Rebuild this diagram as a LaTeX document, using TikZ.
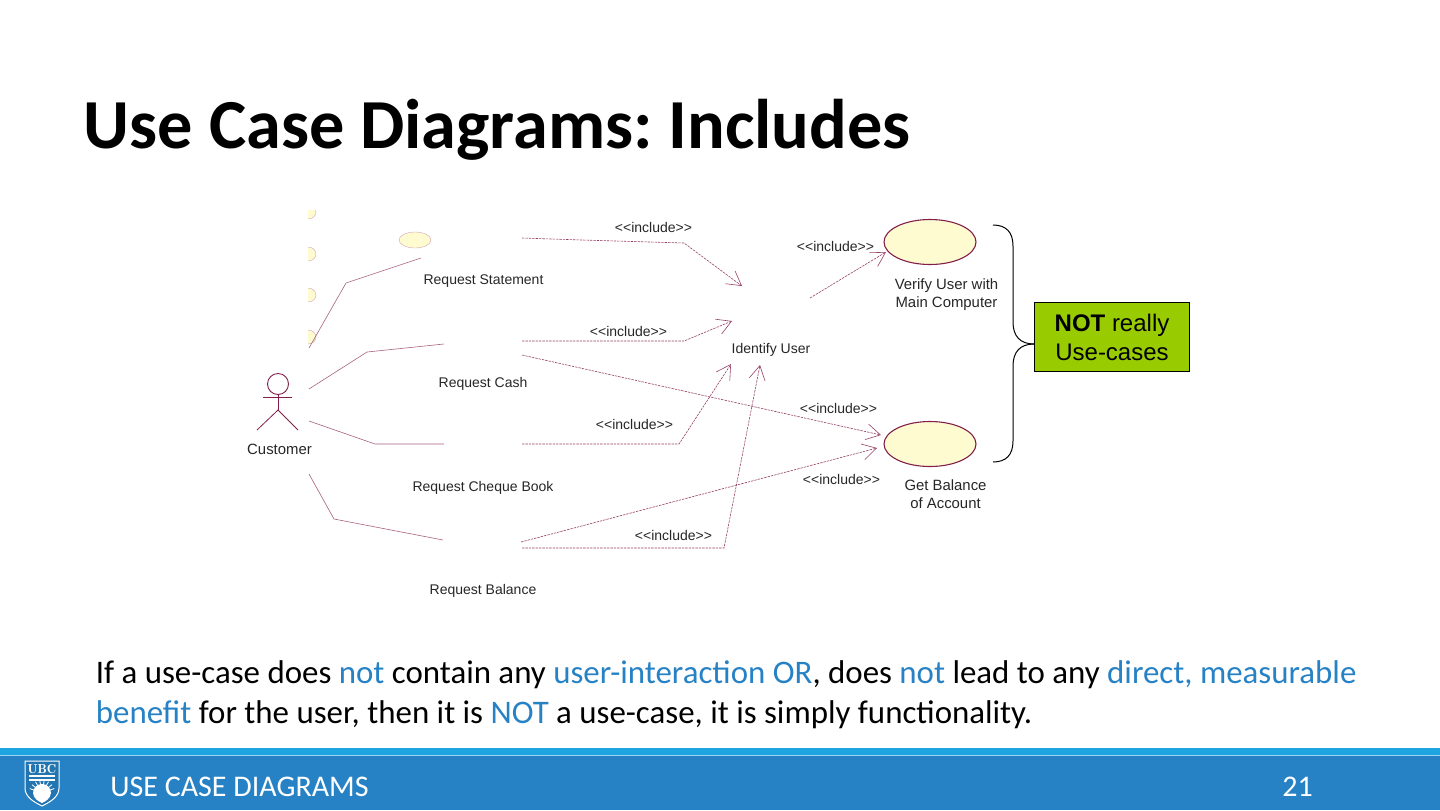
\documentclass[tikz,border=0pt]{standalone}
\usepackage{fontspec}
\setmainfont{Carlito}
\newfontfamily\diagramfont{Liberation Sans}
\usetikzlibrary{arrows.meta,shapes.geometric}
\definecolor{ubcblue}{RGB}{38,130,197}
\definecolor{ubclight}{RGB}{30,165,225}
\definecolor{umlred}{RGB}{130,30,75}
\definecolor{umlfill}{RGB}{255,251,208}
\definecolor{notgreen}{RGB}{153,204,0}
\newcommand{\hl}[1]{\textcolor{ubcblue}{#1}}
\frenchspacing
\tikzset{
    usecase/.style = {ellipse, draw=umlred, fill=umlfill, line width=0.55pt, minimum width=46pt, minimum height=22.5pt, inner sep=0pt},
    label/.style = {font=\diagramfont\fontsize{7}{9}\selectfont, text=black!85, inner sep=0pt, align=center},
    biglabel/.style = {font=\diagramfont\fontsize{7.45}{9}\selectfont, text=black!85, inner sep=0pt, align=center},
    assoc/.style = {draw=umlred!70, line width=0.3pt},
    incl/.style = {draw=umlred!85, line width=0.3pt, dash pattern=on 1.2pt off 0.5pt},
    inclarrow/.style = {incl, -{Straight Barb[length=7pt,width=8pt,line width=0.3pt]}},
    bodytext/.style = {anchor=base west, inner sep=0pt, font=\fontsize{16.45}{20}\selectfont}
}
\begin{document}
\begin{tikzpicture}[x=0.5pt,y=-0.5pt]
    \useasboundingbox (0,0) rectangle (1440,810);
    % title and text
    \node[anchor=base west, inner sep=0pt, font=\fontsize{35.15}{40}\selectfont\bfseries] (title) at (83.5,148) {Use Case Diagrams: Includes};
    \node[bodytext] (line1) at (95.5,683.5) {If a use-case does \hl{not} contain any \hl{user-interaction OR}, does \hl{not} lead to any \hl{direct, measurable}};
    \node[bodytext] (line2) at (95.5,723.5) {\hl{benefit} for the user, then it is \hl{NOT} a use-case, it is simply functionality.};
    % clipped use cases
    \begin{scope}
        \clip (308,210) rectangle (320,345);
        \fill[umlfill, draw=umlred!40, line width=0.2pt] (308,212) ellipse (8 and 7);
        \fill[umlfill, draw=umlred!40, line width=0.2pt] (308,254) ellipse (8 and 7);
        \fill[umlfill, draw=umlred!40, line width=0.2pt] (308,295) ellipse (8 and 7);
        \fill[umlfill, draw=umlred!40, line width=0.2pt] (308,337) ellipse (8 and 7);
    \end{scope}
    \node[ellipse, draw=umlred!40, fill=umlfill, line width=0.2pt, minimum width=16pt, minimum height=8pt, inner sep=0pt] (statement) at (415,240) {};
    % actor
    \node[circle, draw=umlred, line width=0.45pt, minimum size=10.5pt, inner sep=0pt] (head) at (278,384) {};
    \coordinate (hip) at (278,410);
    \coordinate (armL) at (263,397);
    \coordinate (armR) at (292,397);
    \coordinate (footL) at (257,430);
    \coordinate (footR) at (298,430);
    \draw[draw=umlred, line width=0.4pt] (head.south) -- (hip);
    \draw[draw=umlred, line width=0.4pt] (armL) -- (armR);
    \draw[draw=umlred, line width=0.4pt] (footL) -- (hip) -- (footR);
    \node[biglabel] (customer) at (279.5,449) {Customer};
    % labels
    \node[label] (reqstatement) at (483.5,281) {Request Statement};
    \node[label] (reqcash) at (483,384) {Request Cash};
    \node[label] (reqcheque) at (483,488) {Request Cheque Book};
    \node[label] (reqbalance) at (483,591) {Request Balance};
    \node[label] (identify) at (771,350) {Identify User};
    \node[usecase] (verify) at (930,242) {};
    \node[usecase] (balance) at (930,444) {};
    \node[biglabel] (verifytext) at (946.5,295) {Verify User with \\ Main Computer};
    \node[biglabel] (balancetext) at (945.5,494) {Get Balance \\ of Account};
    \node[label] (inc1) at (653.5,227) {<<include>>};
    \node[label] (inc2) at (835.5,246) {<<include>>};
    \node[label] (inc3) at (628.5,331) {<<include>>};
    \node[label] (inc4) at (838.5,408) {<<include>>};
    \node[label] (inc5) at (634.5,424) {<<include>>};
    \node[label] (inc6) at (841.5,479) {<<include>>};
    \node[label] (inc7) at (673.5,535) {<<include>>};
    % actor links
    \coordinate (a1) at (309,348);
    \coordinate (a2) at (309,389);
    \coordinate (a3) at (309,421);
    \coordinate (a4) at (309,474);
    \coordinate (c1) at (421,258);
    \coordinate (c2) at (444,344);
    \coordinate (c3) at (444,444);
    \coordinate (c4) at (443,540);
    \draw[assoc] (a1) -- (346,283) -- (c1);
    \draw[assoc] (a2) -- (367,352) -- (c2);
    \draw[assoc] (a3) -- (375,444) -- (c3);
    \draw[assoc] (a4) -- (334,519) -- (c4);
    % include links
    \coordinate (s1) at (522,238);
    \coordinate (s2) at (522,341);
    \coordinate (s3) at (522,444);
    \coordinate (s4) at (522,548);
    \coordinate (s5) at (522,355);
    \coordinate (s6) at (521,542);
    \coordinate (s7) at (810,298);
    \coordinate (t1) at (742,286);
    \coordinate (t2) at (732,321);
    \coordinate (t3) at (731,364);
    \coordinate (t4) at (760,365);
    \coordinate (t5) at (881,435);
    \coordinate (t6) at (877,448);
    \coordinate (t7) at (886,252);
    \draw[inclarrow] (s1) -- (582,240) -- (684,243) -- (t1);
    \draw[inclarrow] (s2) -- (684,341) -- (t2);
    \draw[inclarrow] (s3) -- (679,444) -- (t3);
    \draw[inclarrow] (s4) -- (724,548) -- (t4);
    \draw[inclarrow] (s5) -- (t5);
    \draw[inclarrow] (s6) -- (t6);
    \draw[inclarrow] (s7) -- (t7);
    % brace and note
    \node[draw=black, fill=notgreen, line width=0.4pt, minimum width=77.6pt, minimum height=34.25pt, inner sep=0pt, align=center, font=\diagramfont\fontsize{12}{14.5}\selectfont] (note) at (1112,337) {\textbf{NOT} really \\ Use-cases};
    \coordinate (bracetip) at (1034,344);
    \draw[line width=0.5pt] (993,225) .. controls (1006,225) and (1013,232) .. (1013,246) -- (1013,322) .. controls (1013,336) and (1020,344) .. (bracetip);
    \draw[line width=0.5pt] (993,462) .. controls (1006,462) and (1013,455) .. (1013,441) -- (1013,366) .. controls (1013,352) and (1020,344) .. (bracetip);
    % footer
    \fill[ubcblue] (0,748) rectangle (1440,810);
    \fill[ubclight] (0,748) rectangle (1440,755);
    \draw[white!55!ubclight, line width=0.4pt] (0,755) -- (1440,755);
    \node[anchor=base west, inner sep=0pt, text=white, font=\fontsize{15}{18}\selectfont] (section) at (110,796) {USE CASE DIAGRAMS};
    \node[anchor=base, inner sep=0pt, text=white, font=\fontsize{15}{18}\selectfont] (pagenum) at (1297.5,796) {21};
    % logo
    \draw[white, line width=0.5pt, fill=ubcblue!90!black] (25,761) -- (59,761) -- (59,788) .. controls (59,797) and (50,802) .. (42,806) .. controls (34,802) and (25,797) .. (25,788) -- cycle;
    \node[inner sep=0pt, text=white, font=\fontfamily{lmr}\fontsize{6.5}{7}\selectfont\bfseries] (ubc) at (42,769) {UBC};
    \draw[white, line width=0.7pt] (29,776) -- (55,776);
    \draw[white, line width=0.7pt] (29,780) -- (55,780);
    \fill[white] (33,793) arc (180:360:9) .. controls (50,799) and (46,801) .. (42,803) .. controls (38,801) and (34,799) .. (33,793) -- cycle;
    \foreach \ang in {200,220,...,340}
        \draw[white, line width=0.4pt] (42,793) -- ++(\ang:13);
\end{tikzpicture}
\end{document}
